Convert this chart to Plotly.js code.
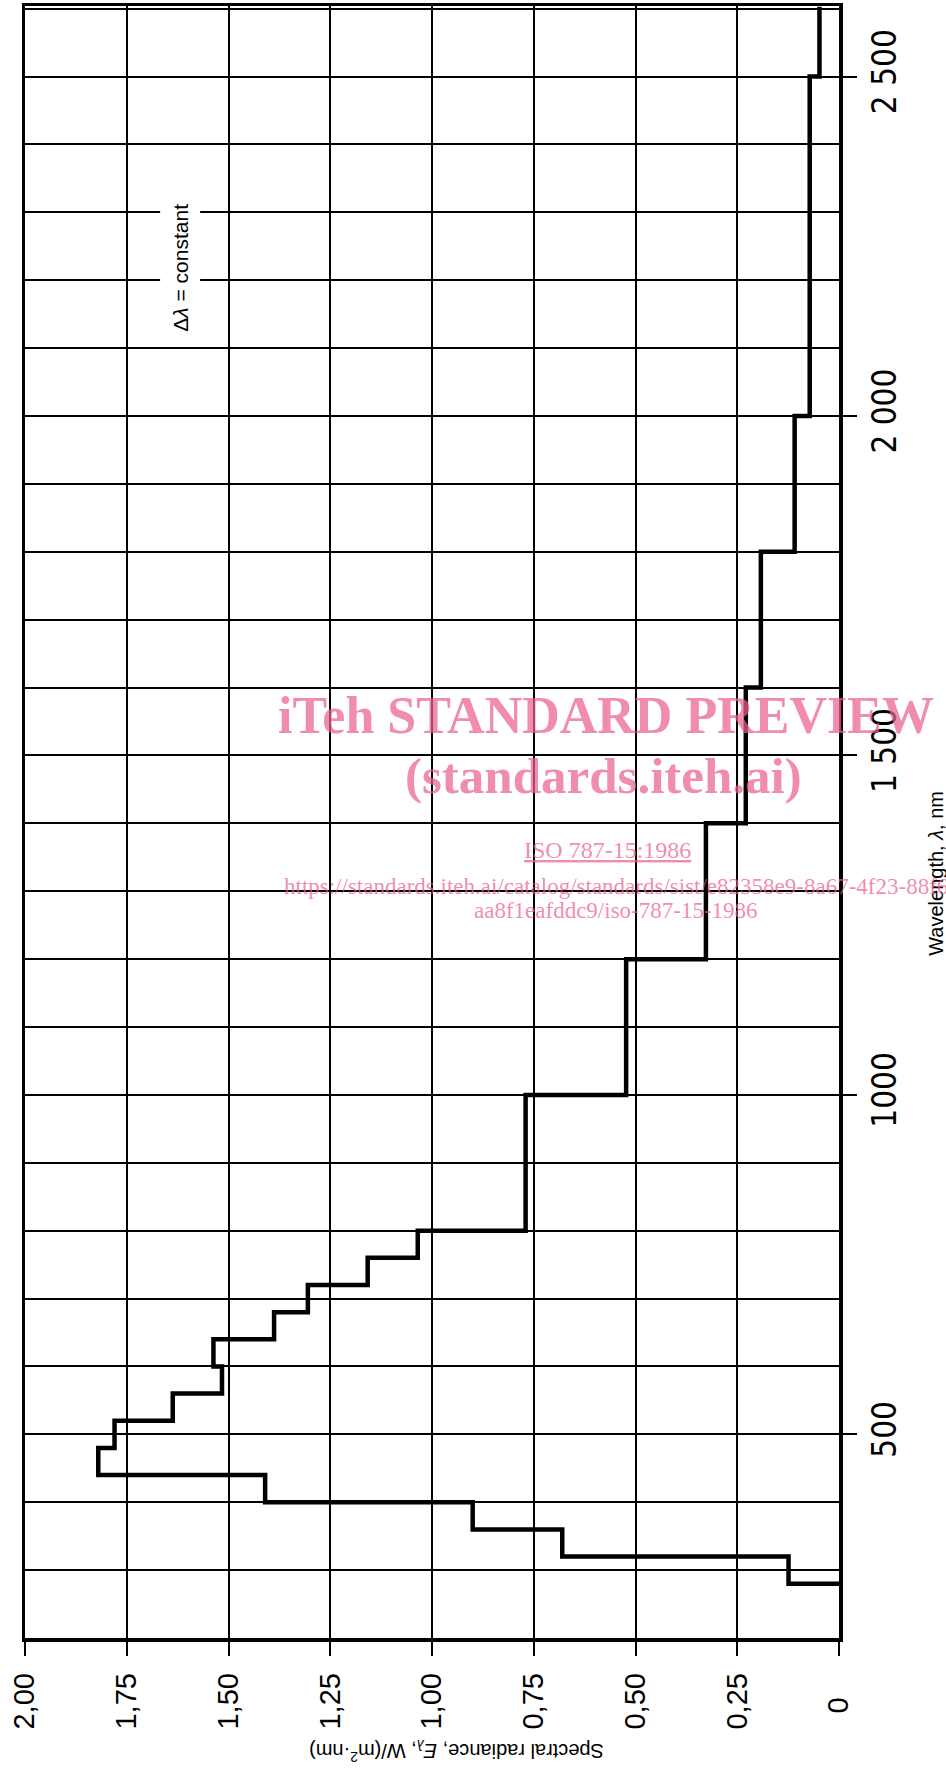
<!DOCTYPE html>
<html>
<head>
<meta charset="utf-8">
<script src="https://cdn.plot.ly/plotly-3.0.1.min.js"></script>
<style>
  html, body { margin: 0; padding: 0; background: #fff; }
  #chart { width: 946px; height: 1771px; }
</style>
</head>
<body>
<div id="chart"></div>
<script>
// Step edges of the constant-Δλ bands (nm) and spectral radiance of each band (W/(m²·nm))
const wavelengthEdges = [280, 320, 360, 400, 440, 480, 520, 560, 600, 640, 680, 720, 760, 800, 1000, 1200, 1400, 1600, 1800, 2000, 2500, 2603];
const radianceValues  = [0.124, 0.68, 0.90, 1.41, 1.82, 1.78, 1.637, 1.516, 1.537, 1.388, 1.305, 1.158, 1.035, 0.77, 0.523, 0.327, 0.229, 0.192, 0.109, 0.072, 0.048];

// Axis ticks
const radianceTicks = [2.0, 1.75, 1.5, 1.25, 1.0, 0.75, 0.5, 0.25, 0];
const radianceTickText = ["2,00", "1,75", "1,50", "1,25", "1,00", "0,75", "0,50", "0,25", "0\u00a0\u00a0\u00a0"];
const wavelengthTicks = [500, 1000, 1500, 2000, 2500];
const wavelengthTickText = ["500", "1000", "1 500", "2 000", "2 500"];

// Build the step outline from the band data
const stepX = [0];
const stepY = [wavelengthEdges[0]];
for (let i = 0; i < radianceValues.length; i++) {
  stepX.push(radianceValues[i], radianceValues[i]);
  stepY.push(wavelengthEdges[i], wavelengthEdges[i + 1]);
}

const trace = {
  x: stepX,
  y: stepY,
  type: 'scatter',
  mode: 'lines',
  line: { color: '#000', width: 4.5 },
  hoverinfo: 'skip',
  showlegend: false
};

const pink = 'rgba(234,96,142,0.72)';

const layout = {
  width: 946,
  height: 1771,
  margin: { l: 25, r: 107, t: 6, b: 133, pad: 0 },
  paper_bgcolor: '#fff',
  plot_bgcolor: '#fff',
  showlegend: false,
  xaxis: {
    range: [2.0, 0],
    tickvals: radianceTicks,
    ticktext: radianceTickText,
    tickangle: -90,
    ticks: 'outside',
    ticklen: 14,
    tickwidth: 2,
    tickcolor: '#000',
    ticklabelstandoff: 6,
    tickfont: { family: 'Liberation Sans, Arial, sans-serif', size: 29, color: '#000' },
    showgrid: true,
    gridcolor: '#000',
    gridwidth: 2,
    zeroline: false,
    showline: true,
    linecolor: '#000',
    linewidth: 3.5,
    mirror: true,
    fixedrange: true
  },
  yaxis: {
    side: 'right',
    range: [200, 2604],
    tickvals: wavelengthTicks,
    ticktext: wavelengthTickText,
    tickangle: -90,
    ticks: 'outside',
    ticklen: 14,
    tickwidth: 2,
    tickcolor: '#000',
    tickfont: { family: 'Liberation Sans Narrow, DejaVu Sans Condensed, Arial Narrow, sans-serif', size: 33, color: '#000' },
    showgrid: true,
    gridcolor: '#000',
    gridwidth: 2,
    minor: { tick0: 0, dtick: 100, showgrid: true, gridcolor: '#000', gridwidth: 2, ticks: '' },
    zeroline: false,
    showline: true,
    linecolor: '#000',
    linewidth: 3.5,
    mirror: true,
    fixedrange: true
  },
  annotations: [
    {
      text: 'Δ<i>λ</i> = constant',
      x: 1.62, y: 2218, xref: 'x', yref: 'y',
      textangle: -90, showarrow: false,
      font: { family: 'Liberation Sans, Arial, sans-serif', size: 21, color: '#000' },
      bgcolor: '#fff', borderpad: 8
    },
    {
      text: 'Spectral radiance, <i>E</i><sub><i>λ</i></sub>, W/(m<sup>2</sup>·nm)',
      x: 0.53, y: -0.069, xref: 'paper', yref: 'paper',
      xanchor: 'center', yanchor: 'middle',
      textangle: 180, showarrow: false,
      font: { family: 'Liberation Sans, Arial, sans-serif', size: 20, color: '#000' }
    },
    {
      text: 'Wavelength, <i>λ</i>, nm',
      x: 1.119, y: 0.4688, xref: 'paper', yref: 'paper',
      xanchor: 'center', yanchor: 'middle',
      textangle: -90, showarrow: false,
      font: { family: 'Liberation Sans, Arial, sans-serif', size: 20, color: '#000' }
    },
    {
      text: '<b>iTeh STANDARD PREVIEW</b>',
      x: 0.7138, y: 0.565, xref: 'paper', yref: 'paper',
      xanchor: 'center', yanchor: 'middle', showarrow: false,
      font: { family: 'Liberation Serif, Times New Roman, serif', size: 52, color: pink }
    },
    {
      text: '<b>(standards.iteh.ai)</b>',
      x: 0.711, y: 0.528, xref: 'paper', yref: 'paper',
      xanchor: 'center', yanchor: 'middle', showarrow: false,
      font: { family: 'Liberation Serif, Times New Roman, serif', size: 51, color: pink }
    },
    {
      text: '<u>ISO 787-15:1986</u>',
      x: 0.715, y: 0.483, xref: 'paper', yref: 'paper',
      xanchor: 'center', yanchor: 'middle', showarrow: false,
      font: { family: 'Liberation Serif, Times New Roman, serif', size: 24, color: pink }
    },
    {
      text: 'https://standards.iteh.ai/catalog/standards/sist/e82358e9-8a67-4f23-88f6-',
      x: 0.3157, y: 0.4602, xref: 'paper', yref: 'paper',
      xanchor: 'left', yanchor: 'middle', showarrow: false,
      font: { family: 'Liberation Serif, Times New Roman, serif', size: 23, color: pink }
    },
    {
      text: 'aa8f1eafddc9/iso-787-15-1986',
      x: 0.903, y: 0.4455, xref: 'paper', yref: 'paper',
      xanchor: 'right', yanchor: 'middle', showarrow: false,
      font: { family: 'Liberation Serif, Times New Roman, serif', size: 23, color: pink }
    }
  ]
};

Plotly.newPlot('chart', [trace], layout, { staticPlot: true, displayModeBar: false });
</script>
</body>
</html>
